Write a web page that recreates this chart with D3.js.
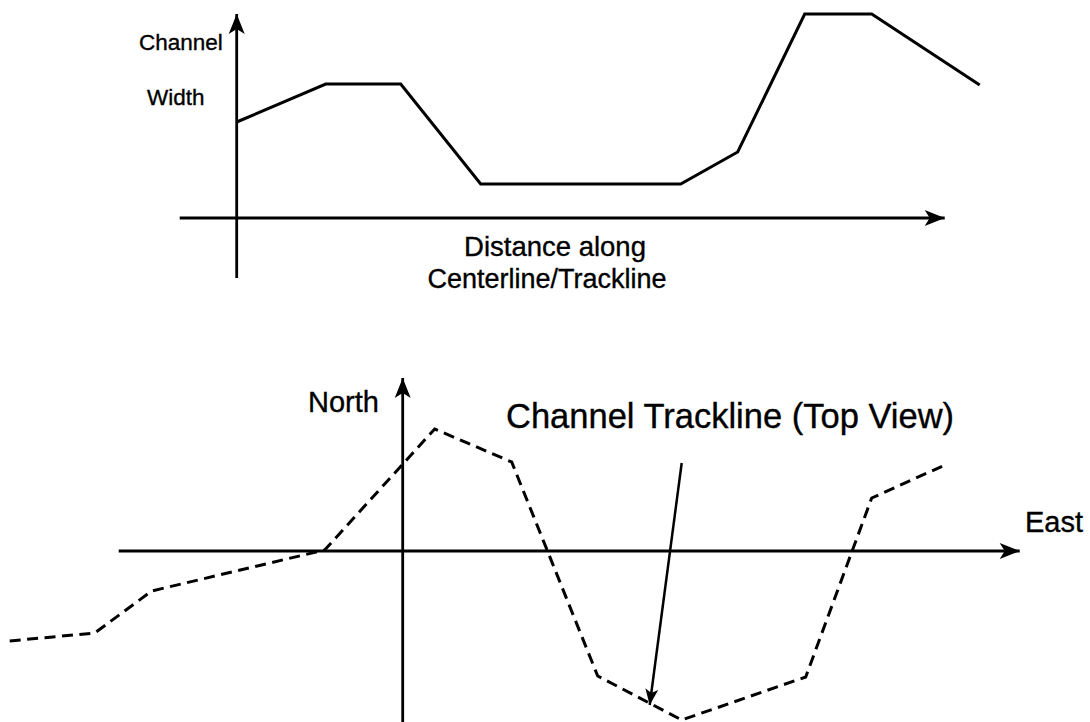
<!DOCTYPE html>
<html><head><meta charset="utf-8">
<script src="https://cdn.jsdelivr.net/npm/d3@7"></script>
<style>body{margin:0;background:#fff}svg{display:block}text{font-family:"Liberation Sans",Arial,sans-serif;fill:#000;stroke:#000;stroke-width:0.35px}</style>
</head><body>
<svg id="c" width="1090" height="722"></svg>
<script>
// Top chart: channel width vs distance along centerline
const distance = [0, 8.9, 16.4, 24.4, 44.4, 50.1, 56.8, 63.5, 74.3];
const channelWidth = [9.6, 13.4, 13.4, 3.4, 3.4, 6.6, 20.4, 20.4, 13.3];
// Bottom chart: trackline plan view
const east  = [-39.3, -30.8, -25.1, -7.8, 3.2, 10.9, 19.5, 27.9, 40.3, 46.9, 54.0];
const north = [-9.0, -8.2, -4.0, 0.1, 12.2, 8.9, -12.5, -16.9, -12.6, 5.3, 8.5];
// annotation arrow (east, north)
const annotFrom = [27.9, 8.8];
const annotTo = [24.7, -15.4];

const svg = d3.select('#c');
const defs = svg.append('defs');
function marker(id, L, W, notch){
  defs.append('marker').attr('id', id).attr('markerUnits','userSpaceOnUse')
    .attr('viewBox', `${-L-1} ${-W/2-1} ${L+2} ${W+2}`)
    .attr('markerWidth', L+2).attr('markerHeight', W+2)
    .attr('refX', 0).attr('refY', 0).attr('orient','auto')
    .append('path').attr('d', `M0,0 L${-L},${-W/2} L${-L+notch},0 L${-L},${W/2} Z`).attr('fill','#000');
}
marker('ah', 20, 16, 5);
marker('ah2', 16, 13, 4);

// ---- top chart scales
const xT = d3.scaleLinear().domain([0, 10]).range([236.7, 336.7]);
const yT = d3.scaleLinear().domain([0, 10]).range([218, 118]);
const gT = svg.append('g');
gT.append('line').attr('x1', xT(-5.7)).attr('x2', xT(70.8)).attr('y1', yT(0)).attr('y2', yT(0))
  .attr('stroke','#000').attr('stroke-width',2.8).attr('marker-end','url(#ah)');
gT.append('line').attr('x1', xT(0)).attr('x2', xT(0)).attr('y1', yT(-6)).attr('y2', yT(20.4))
  .attr('stroke','#000').attr('stroke-width',2.8).attr('marker-end','url(#ah)');
gT.append('path').datum(distance.map((d,i)=>[d, channelWidth[i]]))
  .attr('d', d3.line().x(d=>xT(d[0])).y(d=>yT(d[1])))
  .attr('fill','none').attr('stroke','#000').attr('stroke-width',3).attr('stroke-linejoin','miter');
gT.append('text').attr('x',139).attr('y',50).attr('font-size',22.5).text('Channel');
gT.append('text').attr('x',147).attr('y',105).attr('font-size',22.5).text('Width');
gT.append('text').attr('x',555).attr('y',256).attr('font-size',27.5).attr('text-anchor','middle').text('Distance along');
gT.append('text').attr('x',547).attr('y',288).attr('font-size',27).attr('text-anchor','middle').text('Centerline/Trackline');

// ---- bottom chart scales
const xB = d3.scaleLinear().domain([0, 10]).range([402.7, 502.7]);
const yB = d3.scaleLinear().domain([0, 10]).range([551, 451]);
const gB = svg.append('g');
gB.append('line').attr('x1', xB(-28.4)).attr('x2', xB(61.7)).attr('y1', yB(0)).attr('y2', yB(0))
  .attr('stroke','#000').attr('stroke-width',2.8).attr('marker-end','url(#ah)');
gB.append('line').attr('x1', xB(0)).attr('x2', xB(0)).attr('y1', yB(-17.1)).attr('y2', yB(17.3))
  .attr('stroke','#000').attr('stroke-width',2.8).attr('marker-end','url(#ah)');
gB.append('path').datum(east.map((d,i)=>[d, north[i]]))
  .attr('d', d3.line().x(d=>xB(d[0])).y(d=>yB(d[1])))
  .attr('fill','none').attr('stroke','#000').attr('stroke-width',3).attr('stroke-dasharray','11,6.5');
gB.append('line').attr('x1', xB(annotFrom[0])).attr('y1', yB(annotFrom[1]))
  .attr('x2', xB(annotTo[0])).attr('y2', yB(annotTo[1]))
  .attr('stroke','#000').attr('stroke-width',2.5).attr('marker-end','url(#ah2)');
gB.append('text').attr('x',308).attr('y',412).attr('font-size',29).text('North');
gB.append('text').attr('x',506).attr('y',428).attr('font-size',34.5).text('Channel Trackline (Top View)');
gB.append('text').attr('x',1025).attr('y',532).attr('font-size',29).text('East');
</script>
</body></html>
